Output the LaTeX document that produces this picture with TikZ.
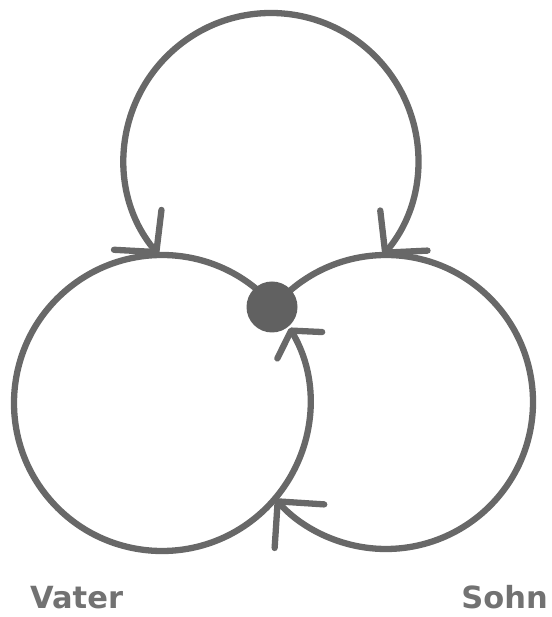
\documentclass[tikz,border=0pt]{standalone}
\usepackage{fontspec}
\setmainfont{DejaVu Sans}
\usetikzlibrary{arrows.meta}
\definecolor{linegray}{HTML}{686868}
\definecolor{dotgray}{HTML}{616161}
\definecolor{textgray}{HTML}{727272}
\begin{document}
\begin{tikzpicture}[x=1pt,y=1pt,
  ring/.style={draw=linegray,line width=6.3pt},
  barb/.style={-{Straight Barb[length=33pt,width=66pt,round]}},
  barbs/.style={{Straight Barb[length=29pt,width=62pt,round]}-{Straight Barb[length=29pt,width=62pt,round]}},
  smallbarb/.style={-{Straight Barb[length=17pt,width=52pt,round]}},
  label/.style={font=\fontsize{30.5}{36}\selectfont\bfseries,text=textgray,inner sep=0pt}]
\useasboundingbox (0,0) rectangle (551,617);
\coordinate (T) at (271,457);
\coordinate (L) at (162,214);
\coordinate (R) at (386,215);
% top circle: arrows onto left and right circles
\draw[ring,barbs] (T) ++(220:147) arc[start angle=220,end angle=-40.3,radius=147];
% left circle, closing on the dot
\draw[ring,smallbarb] (L) ++(41:148) arc[start angle=41,end angle=390.5,radius=148];
% right circle, ending on the left circle
\draw[ring,barb] (R) ++(140.2:147) arc[start angle=140.2,end angle=-138.7,radius=147];
\node[circle,fill=dotgray,minimum size=51pt,inner sep=0pt] (dot) at (272,310) {};
\node[label,anchor=base west] (vater) at (30,9) {Vater};
\node[label,anchor=base east] (sohn) at (548,9) {Sohn};
\end{tikzpicture}
\end{document}
